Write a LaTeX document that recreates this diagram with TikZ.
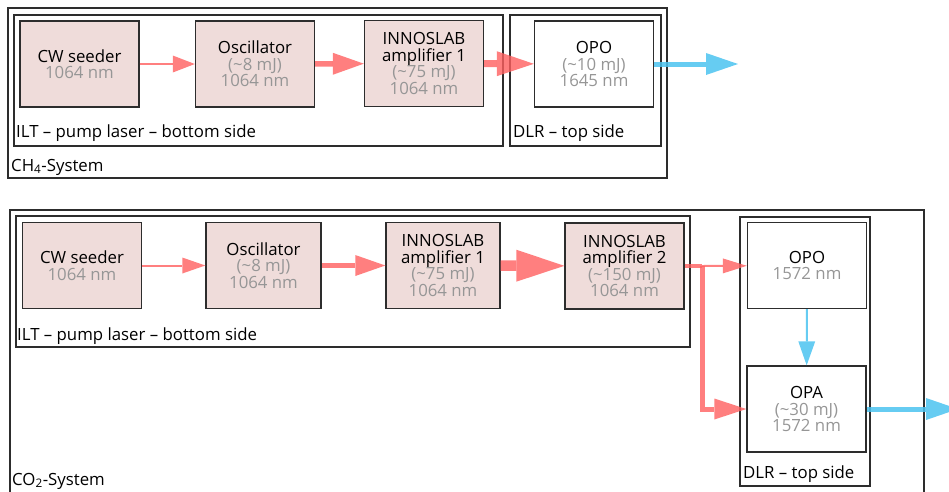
\documentclass[tikz,border=0pt]{standalone}
\usepackage{fontspec}
\setmainfont{Open Sans}
\usetikzlibrary{arrows.meta}
\definecolor{pumpfill}{RGB}{239,220,218}
\definecolor{beamred}{RGB}{255,95,95}
\definecolor{beamblue}{RGB}{75,195,240}
\definecolor{valgray}{RGB}{150,150,150}
\definecolor{edge}{RGB}{45,45,45}
\newcommand{\val}[1]{\textcolor{valgray}{#1}}
\begin{document}
\begin{tikzpicture}[x=1pt,y=-1pt,every node/.style={font=\fontsize{16.8}{16.5}\selectfont},
  unit/.style={draw=edge,line width=1.4pt,minimum width=119pt,minimum height=86pt,inner sep=0pt,align=center},
  pump/.style={unit,fill=pumpfill},
  frame/.style={draw=edge,line width=1.2pt},
  tag/.style={anchor=base west,inner sep=0pt},
  redbeam/.style={draw=beamred,opacity=.8},
  bluebeam/.style={draw=beamblue,opacity=.85}]
\useasboundingbox (0,0) rectangle (949,491);
% CH4 system
\draw[frame] (8,8) rectangle (667,178); \draw[frame] (14,15) rectangle (503,146); \draw[frame] (510,15) rectangle (661,146);
\node[pump] (seed1) at (79.5,64) {CW seeder\\\val{1064 nm}};
\node[pump] (osc1) at (255,64) {Oscillator\\\val{(\textasciitilde8 mJ)}\\\val{1064 nm}};
\node[pump] (amp1) at (424,63.5) {INNOSLAB\\amplifier 1\\\val{(\textasciitilde75 mJ)}\\\val{1064 nm}};
\node[unit] (opo1) at (594,64) {OPO\\\val{(\textasciitilde10 mJ)}\\\val{1645 nm}};
\coordinate (out1) at (738,64);
\draw[redbeam,line width=2pt,-{Triangle[length=22pt,width=17pt,line width=0pt]}] (seed1) -- (osc1);
\draw[redbeam,line width=5.5pt,-{Triangle[length=31pt,width=22pt,line width=0pt]}] (osc1) -- (amp1);
\draw[redbeam,line width=7pt,-{Triangle[length=37pt,width=25pt,line width=0pt]}] (amp1) -- (opo1);
\draw[bluebeam,line width=5pt,-{Triangle[length=32pt,width=22pt,line width=0pt]}] (opo1) -- (out1);
\node[tag] (ilt1) at (16,137) {ILT -- pump laser -- bottom side};
\node[tag] (dlr1) at (513,137) {DLR -- top side};
\node[tag] (sys1) at (11,171) {CH\textsubscript{4}-System};
% CO2 system
\draw[frame] (10,210) rectangle (924,520); \draw[frame] (16,216) rectangle (690,347); \draw[frame] (740,217) rectangle (870,486);
\node[pump] (seed2) at (82,265.5) {CW seeder\\\val{1064 nm}};
\node[pump,minimum width=115pt] (osc2) at (263.5,265.5) {Oscillator\\\val{(\textasciitilde8 mJ)}\\\val{1064 nm}};
\node[pump,minimum width=114pt] (amp21) at (443,265.5) {INNOSLAB\\amplifier 1\\\val{(\textasciitilde75 mJ)}\\\val{1064 nm}};
\node[pump] (amp22) at (624.5,266) {INNOSLAB\\amplifier 2\\\val{(\textasciitilde150 mJ)}\\\val{1064 nm}};
\node[unit] (opo2) at (807,265.5) {OPO\\\val{1572 nm}};
\node[unit] (opa2) at (806.5,409) {OPA\\\val{(\textasciitilde30 mJ)}\\\val{1572 nm}};
\coordinate (split) at (702,266); \coordinate (out2) at (958,409);
\draw[redbeam,line width=2pt,-{Triangle[length=23pt,width=16pt,line width=0pt]}] (seed2) -- (osc2);
\draw[redbeam,line width=5pt,-{Triangle[length=30pt,width=21pt,line width=0pt]}] (osc2) -- (amp21);
\draw[redbeam,line width=10.5pt,-{Triangle[length=48pt,width=32pt,line width=0pt]}] (amp21) -- (amp22);
\draw[redbeam,line width=4pt] (amp22) -- (split);
\draw[redbeam,line width=2pt,-{Triangle[length=24pt,width=15pt,line width=0pt]}] (split) -- (opo2);
\draw[redbeam,line width=5pt,-{Triangle[length=32pt,width=21pt,line width=0pt]}] (split) |- (opa2);
\draw[bluebeam,line width=2pt,-{Triangle[length=24pt,width=17pt,line width=0pt]}] (opo2) -- (opa2);
\draw[bluebeam,line width=5pt,-{Triangle[length=32pt,width=22pt,line width=0pt]}] (opa2) -- (out2);
\node[tag] (ilt2) at (17,340) {ILT -- pump laser -- bottom side};
\node[tag] (dlr2) at (743,478) {DLR -- top side};
\node[tag] (sys2) at (12,485) {CO\textsubscript{2}-System};
\end{tikzpicture}
\end{document}
